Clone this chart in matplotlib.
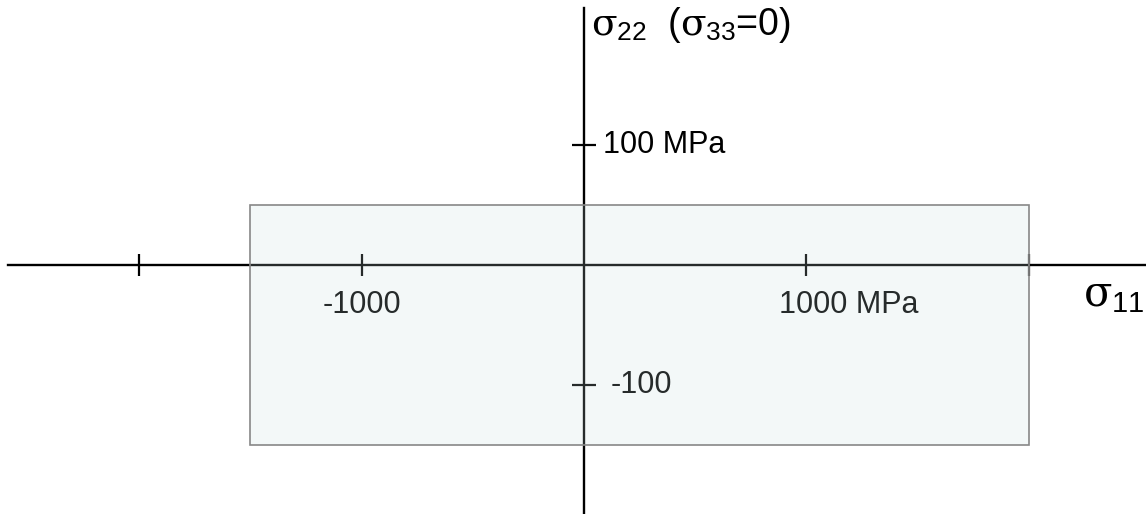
import matplotlib.pyplot as plt
from matplotlib.patches import Rectangle

plt.rcParams['font.family'] = ['Liberation Sans', 'DejaVu Sans']
plt.rcParams['mathtext.fontset'] = 'custom'
plt.rcParams['mathtext.rm'] = 'DejaVu Serif'
plt.rcParams['mathtext.it'] = 'DejaVu Serif'
plt.rcParams['mathtext.sf'] = 'Liberation Sans'

# stress space, MPa
x_ticks = [-2000, -1000, 1000, 2000]
y_ticks = [-100, 100]
x_labels = {-1000: '-1000', 1000: '1000 MPa'}
y_labels = {100: '100 MPa', -100: '-100'}
# allowed region (sigma11 range, sigma22 range)
rect_s11 = [-1500, 2000]
rect_s22 = [-150, 50]

fig = plt.figure(figsize=(11.46, 5.14), dpi=100)
ax = fig.add_axes([0, 0, 1, 1])
ax.set_xlim(-2625, 2526)
ax.set_ylim(-207.5, 220.8)
ax.axis('off')

# axes through origin
ax.plot([-2590, 2526], [0, 0], color='black', lw=1.7, zorder=2)
ax.plot([0, 0], [-207.5, 214], color='black', lw=1.7, zorder=2)
ax.plot(x_ticks, [0] * len(x_ticks), ls='none', marker='|', ms=16, mew=1.6, color='black', zorder=2)
ax.plot([0] * len(y_ticks), y_ticks, ls='none', marker='_', ms=17, mew=1.6, color='black', zorder=2)

for v, s in x_labels.items():
    if 'MPa' in s:
        ax.annotate(s, (v, 0), xytext=(-19.5, -29), textcoords='offset points',
                    ha='left', va='center', fontsize=22, color='black', zorder=2)
    else:
        ax.annotate(s, (v, 0), xytext=(0, -29), textcoords='offset points',
                    ha='center', va='center', fontsize=22, color='black', zorder=2)
for v, s in y_labels.items():
    ax.annotate(s, (0, v), xytext=(14 if v > 0 else 19, 0), textcoords='offset points',
                ha='left', va='center', fontsize=22, color='black', zorder=2)

ax.text(0.945, 0.425, r'$\sigma_{\mathsf{11}}$', transform=ax.transAxes, fontsize=30,
        ha='left', va='center')
ax.text(0.516, 0.99, r'$\sigma_{\mathsf{22}}$  ($\sigma_{\mathsf{33}}$=0)', transform=ax.transAxes,
        fontsize=27, ha='left', va='top')

ax.add_patch(Rectangle((rect_s11[0], rect_s22[0]), rect_s11[1] - rect_s11[0], rect_s22[1] - rect_s22[0],
                       facecolor=(195 / 255, 220 / 255, 220 / 255, 0.2), edgecolor='#888888',
                       lw=1.2, zorder=5))

fig.savefig('out.png', dpi=100)
plt.close()
